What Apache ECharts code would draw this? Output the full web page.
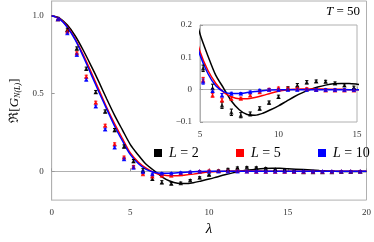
<!DOCTYPE html>
<html><head><meta charset="utf-8">
<script src="https://cdn.jsdelivr.net/npm/echarts@6/dist/echarts.min.js"></script>
<style>html,body{margin:0;padding:0;background:#fff}#c{width:374px;height:242px}</style>
</head><body><div id="c"></div>
<script>
// ---- data ----
const curveX = [0,0.5,1,1.5,2,2.5,3,3.5,4,4.5,5,5.5,6,6.5,7,7.5,8,8.5,9,9.5,10,10.5,11,11.5,12,12.5,13,13.5,14,14.5,15,16,17,18,19,20];
const curveL2 = [1.0,0.985,0.94,0.87,0.78,0.68,0.575,0.465,0.36,0.265,0.172,0.105,0.045,0.005,-0.035,-0.062,-0.077,-0.079,-0.073,-0.062,-0.05,-0.036,-0.022,-0.01,0.0,0.008,0.014,0.018,0.019,0.019,0.017,0.011,0.005,0.001,-0.001,-0.001];
const curveL5 = [1.0,0.982,0.93,0.85,0.75,0.64,0.525,0.41,0.305,0.21,0.118,0.06,0.02,-0.008,-0.022,-0.028,-0.028,-0.024,-0.018,-0.011,-0.005,-0.001,0.001,0.002,0.002,0.002,0.002,0.001,0.001,0.0,0.0,0,0,0,0,0];
const curveL10 = [1.0,0.98,0.925,0.845,0.74,0.625,0.51,0.4,0.29,0.195,0.107,0.05,0.012,-0.006,-0.012,-0.012,-0.009,-0.006,-0.003,-0.001,0,0,0,0,0,0,0,0,0,0,0,0,0,0,0,0];

const pointX = [0.4,1.0,1.6,2.2,2.8,3.4,4.0,4.6,5.2,5.8,6.4,7.0,7.6,8.2,8.8,9.4,10.0,10.6,11.2,11.8,12.4,13.0,13.6,14.2,14.8,15.4,16.0,16.6,17.2,17.8,18.4,19.0,19.6];
const pointsL2 = [0.98,0.91,0.79,0.66,0.51,0.385,0.265,0.16,0.066,0.005,-0.048,-0.07,-0.079,-0.075,-0.058,-0.04,-0.022,0.004,0.014,0.023,0.026,0.025,0.02,0.014,0.007,0.0,-0.004,-0.005,-0.005,-0.004,-0.003,-0.002,-0.001];
const pointsL5 = [0.98,0.90,0.76,0.61,0.443,0.295,0.175,0.09,0.03,-0.017,-0.032,-0.027,-0.027,-0.017,-0.007,0.001,0.005,0.004,0.004,0.003,0.0,-0.002,-0.002,-0.002,-0.002,-0.002,-0.002,-0.001,-0.001,-0.001,0,0,0];
const pointsL10 = [0.98,0.89,0.75,0.59,0.418,0.27,0.154,0.079,0.025,-0.003,-0.017,-0.012,-0.012,-0.007,-0.002,0,0,0,0,0,0,0,0,0,0,0,0,0,0,0,0,0,0];
const errL2 = [0.01,0.01,0.01,0.01,0.01,0.01,0.01,0.01,0.01,0.012,0.01,0.01,0.008,0.006,0.005,0.005,0.005,0.005,0.005,0.005,0.004,0.004,0.004,0.004,0.004,0.004,0.004,0.004,0.004,0.004,0.004,0.004,0.004];
const errL5 = [0.008,0.008,0.008,0.008,0.008,0.008,0.008,0.008,0.008,0.006,0.006,0.005,0.004,0.004,0.004,0.003,0.003,0.003,0.003,0.003,0.003,0.003,0.003,0.003,0.003,0.003,0.003,0.003,0.003,0.003,0.003,0.003,0.003];
const errL10 = [0.008,0.008,0.008,0.008,0.008,0.008,0.008,0.008,0.008,0.006,0.005,0.004,0.003,0.003,0.003,0.003,0.003,0.003,0.003,0.003,0.003,0.003,0.003,0.003,0.003,0.003,0.003,0.003,0.003,0.003,0.003,0.003,0.003];

const mainXTicks = [0,5,10,15,20];
const mainYTicks = [0,0.5,1.0];
const insetXTicks = [5,10,15];
const insetYTicks = [-0.1,0,0.1,0.2];
const seriesNames = ['L = 2','L = 5','L = 10'];
const seriesColors = ['#000000','#ff0000','#0000ff'];
const curves = [curveL2, curveL5, curveL10];
const points = [pointsL2, pointsL5, pointsL10];
const errs = [errL2, errL5, errL10];

// ---- chart ----
const chart = echarts.init(document.getElementById('c'), null, {renderer:'canvas'});
const FONT = 'Liberation Serif';
const lblColor = '#333';
const frame = '#b0b0b0';

function fmtY(v){
  if (Math.abs(v) < 1e-9) return '0';
  const s = (Math.round(v*10)/10).toFixed(1);
  return s.replace('-', '\u2212');
}
function fmtX(v){ return String(Math.round(v)); }

function errItem(color){
  return function(params, api){
    const x = api.value(0), y = api.value(1), e = api.value(2);
    const p1 = api.coord([x, y - e]);
    const p2 = api.coord([x, y + e]);
    const w = 1.6;
    const st = {stroke: color, lineWidth: 1};
    return {type:'group', children:[
      {type:'line', shape:{x1:p1[0], y1:p1[1], x2:p2[0], y2:p2[1]}, style:st},
      {type:'line', shape:{x1:p1[0]-w, y1:p1[1], x2:p1[0]+w, y2:p1[1]}, style:st},
      {type:'line', shape:{x1:p2[0]-w, y1:p2[1], x2:p2[0]+w, y2:p2[1]}, style:st}
    ]};
  };
}

const series = [];
[0,1].forEach(function(g){
  for (let i = 0; i < 3; i++){
    series.push({
      name: seriesNames[i], type:'line', xAxisIndex:g, yAxisIndex:g,
      data: curveX.map(function(x,k){return [x, curves[i][k]];}),
      smooth: 0.3, showSymbol:false, symbol:'none',
      lineStyle:{color:seriesColors[i], width:1.5}, itemStyle:{color:seriesColors[i]},
      clip:true, z:2
    });
  }
  for (let i = 0; i < 3; i++){
    series.push({
      name: seriesNames[i], type:'custom', xAxisIndex:g, yAxisIndex:g,
      data: pointX.map(function(x,k){return [x, points[i][k], errs[i][k]];}),
      renderItem: errItem(seriesColors[i]), clip:true, z:3,
      itemStyle:{color:seriesColors[i]}
    });
    series.push({
      name: seriesNames[i], type:'scatter', xAxisIndex:g, yAxisIndex:g,
      data: pointX.map(function(x,k){return [x, points[i][k]];}),
      symbol:'triangle', symbolSize:4.5, clip:true, z:4,
      itemStyle:{color:seriesColors[i]}
    });
  }
});

function axisCommon(fmt){
  return {
    axisLine:{show:true, lineStyle:{color:frame, width:1}},
    axisTick:{show:true, inside:true, length:3, lineStyle:{color:'#999'}},
    splitLine:{show:false},
    axisLabel:{fontFamily:FONT, fontSize:9, color:lblColor, formatter:fmt}
  };
}

const legendPos = [149, 231, 313];
const legends = seriesNames.map(function(n,i){
  return {
    data:[{name:n, icon:'rect'}], left:legendPos[i], top:141,
    itemWidth:8, itemHeight:8, itemGap:0,
    selectedMode:false,
    formatter:function(name){ return '{i|L}' + name.slice(1); },
    textStyle:{fontFamily:FONT, fontSize:14, color:'#000', padding:[0,0,0,2],
      rich:{i:{fontFamily:FONT, fontSize:14, fontStyle:'italic', color:'#000'}}}
  };
});

const option = {
  backgroundColor:'#fff',
  animation:false,
  grid:[
    {left:39, top:1, width:329, height:201, show:true, borderColor:frame, borderWidth:1, backgroundColor:'transparent'},
    {left:200, top:25, width:157, height:97, show:true, borderColor:frame, borderWidth:1, backgroundColor:'#fff'}
  ],
  legend: legends,
  title:{text:'{i|T} = 50', right:9, top:0,
    textStyle:{fontFamily:FONT, fontSize:13, fontWeight:'normal', color:'#000',
      rich:{i:{fontFamily:FONT, fontSize:13, fontStyle:'italic', color:'#000'}}}},
  xAxis:[
    Object.assign(axisCommon(fmtX), {gridIndex:0, type:'value', min:0, max:20, interval:5,
      name:'\u03bb', nameLocation:'middle', nameGap:21,
      nameTextStyle:{fontFamily:FONT, fontSize:15, fontStyle:'italic', color:'#000'}}),
    Object.assign(axisCommon(fmtX), {gridIndex:1, type:'value', min:5, max:15, interval:5})
  ],
  yAxis:[
    Object.assign(axisCommon(fmtY), {gridIndex:0, type:'value', min:-0.185, max:1.095,
      axisLabel:{fontFamily:FONT, fontSize:9, color:lblColor, formatter:fmtY, customValues:mainYTicks, showMinLabel:true, showMaxLabel:true},
      axisTick:{show:true, inside:true, length:3, lineStyle:{color:'#999'}, customValues:mainYTicks},
      name:'{a|\u211c[}{b|G}{s|N(L)}{a|]}', nameLocation:'middle', nameGap:24,
      nameTextStyle:{fontFamily:FONT, fontSize:13, color:'#000',
        rich:{a:{fontFamily:FONT, fontSize:13, color:'#000'},
              b:{fontFamily:FONT, fontSize:13, fontStyle:'italic', color:'#000'},
              s:{fontFamily:FONT, fontSize:8, fontStyle:'italic', color:'#000', verticalAlign:'bottom', padding:[6,0,0,0]}}}}),
    Object.assign(axisCommon(fmtY), {gridIndex:1, type:'value', min:-0.1, max:0.2, interval:0.1})
  ],
  series: series
};
chart.setOption(option);
</script>
</body></html>
